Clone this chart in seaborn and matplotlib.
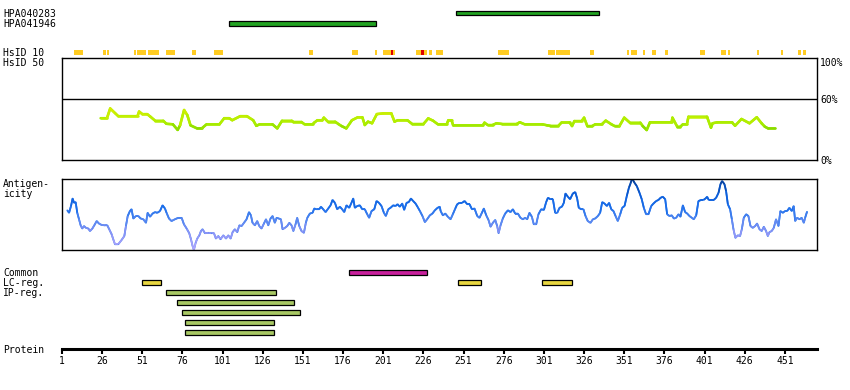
import numpy as np
import matplotlib
matplotlib.use("Agg")
import matplotlib.pyplot as plt
import seaborn as sns
from matplotlib.collections import LineCollection
from matplotlib.colors import LinearSegmentedColormap, Normalize

# ---------------- data ----------------
protein_length = 471
tick_positions = [1, 26, 51, 76, 101, 126, 151, 176, 201, 226, 251, 276, 301,
                  326, 351, 376, 401, 426, 451]
tick_labels = [str(t) for t in tick_positions]

antibody_names = ["HPA040283", "HPA041946"]
antibody_starts = [246, 105]
antibody_ends = [335.5, 196.3]

hsid10_starts = [8.5, 26.6, 29.0, 45.6, 47.7, 54.6, 65.8, 81.8, 95.6, 154.8,
                 181.3, 195.8, 200.6, 221.2, 229.4, 233.9, 272.4, 303.4, 308.3,
                 329.4, 352.6, 355.1, 362.5, 368.0, 376.2, 397.9, 411.2, 415.4,
                 433.5, 448.6, 459.2, 462.1]
hsid10_ends = [13.9, 28.4, 30.2, 47.1, 53.1, 61.3, 71.3, 84.5, 101.1, 157.2,
               185.3, 197.0, 208.2, 228.1, 231.1, 238.1, 279.1, 307.8, 317.1,
               332.2, 353.8, 358.7, 363.8, 370.8, 378.1, 401.2, 414.2, 416.7,
               434.7, 449.8, 461.0, 464.0]
hsid10_red_starts = [206.1, 224.5]
hsid10_red_ends = [207.3, 226.3]

hsid50_pos = [25, 29, 31, 34, 36, 48, 49, 51, 54, 56,
              59, 64, 66, 70, 73, 74.5, 77, 79, 81, 85,
              88, 91, 99, 102, 105, 107, 112, 116, 120, 122,
              124, 132, 135, 138, 144, 145, 150, 152, 157, 158,
              160, 163, 164, 166.5, 171, 173, 175, 178, 181.5, 185,
              188, 189.5, 191.5, 194, 197, 201, 206, 208, 210, 216,
              219, 226, 229, 232, 235, 240.5, 241.5, 243.5, 244.5, 263,
              264, 266, 269, 271.5, 275, 284, 286, 289, 300, 303,
              305, 310, 312, 317, 318.5, 320, 324.5, 326, 328, 331,
              333, 337, 339.5, 343, 345, 348, 351, 354.5, 361, 362.5,
              365, 367, 380.5, 381, 384, 386, 387.5, 390, 391, 402.5,
              405, 406, 409, 418, 420, 424, 429, 433.5, 436.5, 438.5,
              440.5, 445]
hsid50_pct = [41, 41, 50.5, 46, 43, 43, 47.5, 45, 45, 42.5,
              38.5, 38.5, 35.5, 35, 29.5, 34, 49, 44, 34, 31,
              31, 35, 35, 41, 41, 39, 43, 43, 39, 33.5,
              35, 35, 31, 38.5, 38.5, 37.3, 37.3, 35, 35, 36.6,
              39, 39, 41.5, 37.6, 37.6, 35.3, 33.3, 31, 39, 41.8,
              41.8, 34.3, 37.6, 36, 45, 45.7, 45.7, 37.6, 39, 39,
              35.3, 35.3, 40.8, 38.5, 35, 35, 39, 39, 34, 34,
              36.6, 34.3, 34.3, 36, 35.3, 35.3, 37, 35, 35, 34,
              33.5, 33.5, 36.8, 36.8, 33.3, 38.2, 38.2, 41.5, 33.3, 33.3,
              35, 35, 38.6, 35, 33.3, 33.3, 41.5, 36.6, 36.6, 33.3,
              29.4, 37, 37, 41.5, 32.7, 32.7, 35, 35, 42.5, 42.5,
              31.7, 36, 37, 37, 33.6, 40.2, 36, 41.9, 36, 32.7,
              31, 31]
hsid_ref_level = 60
hsid_axis_labels = ["100%", "60%", "0%"]

antigen_pos = [
    4.3, 5.4, 6.6, 7.6, 8.5, 9.5, 10.5, 11.6, 12.6, 13.6,
    14.7, 15.9, 17.4, 18.4, 19.9, 21.1, 22.6, 24, 25.7, 27.8,
    29.2, 30.4, 31.9, 32.9, 34, 36, 38.1, 39.8, 40.8, 41.9,
    43.3, 44.3, 45.4, 47, 48.5, 50, 51.6, 53.3, 54.3, 55.8,
    57.4, 58.9, 60.3, 62, 63.6, 65.1, 66.1, 67.6, 69.2, 71.3,
    73.4, 75.5, 76.9, 78.6, 80.2, 81.3, 82.3, 83.1, 84.2, 85.2,
    86.5, 87.5, 88.5, 90, 92.1, 94.1, 95.6, 96.8, 98.3, 99.7,
    101.4, 103.1, 104.5, 106, 107.2, 108.6, 110.1, 111.4, 112.8, 114.3,
    115.9, 117.4, 118.6, 119.6, 121.1, 122.5, 123.8, 125.2, 126.7, 128,
    129.4, 130.8, 132.1, 133.5, 134.6, 136, 137.3, 138.3, 139.8, 141.2,
    142.5, 143.9, 145, 146.4, 147.4, 148.7, 150.1, 151.6, 152.8, 153.7,
    155.3, 157, 158, 159.5, 161.1, 162.2, 163.6, 165.1, 166.7, 168.2,
    169.4, 170.9, 172.3, 174, 175.4, 176.7, 178.1, 179.8, 181.2, 182.3,
    183.3, 184.8, 186.4, 187.9, 189.5, 191, 192.2, 193.7, 195.4, 196.8,
    198.3, 199.9, 201.4, 202.6, 204.1, 205.5, 207.2, 208.6, 209.9, 211.3,
    212.8, 214, 215.5, 216.9, 218.2, 219.6, 221.1, 222.3, 223.8, 225.4,
    226.9, 228.3, 230, 231.6, 233.1, 234.8, 236.2,
    236.7, 238.1, 239.6, 241.2, 242.9, 244.3, 245.8, 247, 248.5, 250.1,
    251.6, 253.3, 254.7, 256.2, 257.8, 259.5, 260.9, 262.4, 263.6, 265.1,
    266.5, 267.8, 269.2, 270.7, 271.9, 272.8, 274, 275.4, 276.9, 278.6,
    280.2, 281.7, 283.1, 284.8, 286.4, 287.9, 289.3, 290.6, 292, 293.5,
    294.7, 296.2, 297.6, 299.3, 301, 302.4, 303.5, 305.1, 306.6, 308,
    309.3, 310.7, 312.2, 313.4, 314.4, 315.9, 317.3, 319, 320.5, 321.7,
    322.7, 324.2, 325.6, 326.9, 328.3, 330, 331.5, 332.9, 334.6, 336,
    337.3, 338.7, 340.2, 341.6, 342.9, 344.3, 345.6, 347, 348.5, 349.7,
    351.2, 352.6, 353.9, 354.9, 355.9, 357.4, 358.8, 360.5, 361.9, 363.2,
    364.6, 366.1, 367.8, 369.2, 370.9, 372.3, 373.6, 375, 376.5, 377.7,
    379.2, 380.6, 381.9, 383.3, 384.8, 386, 387.5, 388.9, 390.2, 391.6,
    393.1, 394.3, 395.8, 397.2, 398.9, 400.3, 401.6, 402.6, 403.6, 405.1,
    406.7, 408.2, 409.7, 410.9, 411.9, 413.4, 414.4, 415.5, 416.9, 418,
    419, 420.2, 421.7, 423.1, 424.2, 425.4, 426.9, 428.3, 429.6, 431,
    432.5, 433.7, 435.2, 436.6, 437.9, 439.3, 440.4, 441.4, 442.8, 444.1,
    445.5, 447, 448.2, 449.7, 451.1, 452.4, 453.8, 455.3, 456.5, 457.4,
    458.6, 460.1, 461.5, 462.8, 463.6, 464.8]
antigen_score = [
    .555, .52, .615, .72, .66, .67, .52, .43, .345, .30,
    .335, .31, .30, .265, .30, .345, .405, .37, .35, .345,
    .345, .29, .22, .15, .08, .08, .14, .195, .335, .475,
    .545, .57, .44, .475, .475, .44, .43, .38, .52, .465,
    .51, .53, .52, .545, .625, .58, .52, .44, .405, .43,
    .45, .45, .36, .30, .235, .15, .055, 0.0, .10, .16,
    .205, .265, .29, .235, .24, .235, .235, .16, .195, .15,
    .205, .16, .205, .16, .25, .29, .25, .345, .335, .38,
    .43, .53, .485, .38, .345, .405, .335, .30, .37, .43,
    .345, .44, .475, .38, .45, .44, .43, .29, .31, .335,
    .38, .345, .265, .36, .45, .335, .265, .24, .38, .45,
    .51, .52, .58, .57, .57, .605, .57, .53, .58, .625,
    .70, .66, .57, .605, .57, .53, .625, .59, .66, .72,
    .59, .615, .625, .57, .57, .50, .45, .545, .57, .685,
    .66, .615, .52, .475, .57, .59, .625, .615, .64, .605,
    .65, .56, .66, .67, .72, .685, .65, .605, .545, .475,
    .39, .43, .485, .51, .555, .59, .605,
    .545, .485, .51, .465, .43, .50, .58, .64, .66, .66,
    .685, .64, .64, .57, .58, .475, .45, .52, .58, .485,
    .42, .325, .38, .42, .335, .235, .345, .44, .51, .555,
    .53, .57, .51, .51, .45, .43, .45, .43, .52, .465,
    .36, .36, .50, .57, .56, .67, .73, .71, .71, .52,
    .52, .59, .605, .66, .79, .745, .71, .79, .81, .72,
    .59, .57, .57, .475, .405, .38, .43, .44, .475, .52,
    .67, .65, .615, .66, .57, .545, .475, .405, .50, .59,
    .615, .755, .87, .93, 1.0, .94, .895, .80, .71, .59,
    .50, .50, .615, .65, .685, .70, .73, .745, .71, .50,
    .475, .485, .44, .45, .50, .465, .625, .53, .51, .475,
    .45, .43, .485, .685, .70, .70, .72, .745, .70, .70,
    .70, .73, .80, .92, .965, .92, .825, .64, .57, .43,
    .29, .17, .205, .195, .29, .45, .50, .475, .335, .31,
    .335, .37, .29, .265, .325, .265, .195, .25, .265, .31,
    .43, .335, .545, .52, .545, .545, .59, .545, .615, .405,
    .45, .43, .45, .38, .45, .535]

track_names = ["Common", "LC-reg.", "IP-reg."]
common_starts = [179.8]
common_ends = [228.0]
lc_starts = [50.9, 247.6, 300.0]
lc_ends = [62.4, 262.1, 318.7]
ip_starts = [65.9, 72.7, 75.9, 77.7, 77.7]
ip_ends = [134.0, 145.2, 148.9, 132.7, 132.7]

# ---------------- style ----------------
sns.set_style("white")
plt.rcParams["font.family"] = ["DejaVu Sans Mono", "DejaVu Sans"]
FS = 7.0

W, H = 850, 390
fig = plt.figure(figsize=(W / 100, H / 100), dpi=100)


def px_axes(x0, y0, x1, y1):
    return fig.add_axes([x0 / W, 1 - y1 / H, (x1 - x0) / W, (y1 - y0) / H])


X0, X1 = 62, 817
xlim = (1, protein_length)

# antibody tracks
ax_ab = px_axes(X0, 7.75, X1, 28.75)
ax_ab.set_xlim(*xlim)
ax_ab.set_ylim(1.5, -0.5)
ax_ab.barh(range(len(antibody_names)),
           np.array(antibody_ends) - np.array(antibody_starts),
           left=antibody_starts, height=0.40, color="#22a322",
           edgecolor="black", linewidth=0.9)
ax_ab.axis("off")

# HsID 10 blocks
ax_h10 = px_axes(X0, 50, X1, 54.5)
ax_h10.set_xlim(*xlim)
ax_h10.set_ylim(0, 1)
ax_h10.barh(0.5, np.array(hsid10_ends) - np.array(hsid10_starts),
            left=hsid10_starts, height=1, color="#ffcc22", linewidth=0)
ax_h10.barh(0.5, np.array(hsid10_red_ends) - np.array(hsid10_red_starts),
            left=hsid10_red_starts, height=1, color="#dd0000", linewidth=0)
ax_h10.axis("off")

# HsID 50 panel
ax_h50 = px_axes(X0, 58, X1, 160)
ax_h50.set_xlim(*xlim)
ax_h50.set_ylim(0, 100)
ax_h50.axhline(hsid_ref_level, color="black", lw=1.0)
sns.lineplot(x=hsid50_pos, y=hsid50_pct, ax=ax_h50, color="#a8ec00", lw=1.8)
pts = np.column_stack([hsid50_pos, hsid50_pct])
segs = np.stack([pts[:-1], pts[1:]], axis=1)
cmap_h = LinearSegmentedColormap.from_list(
    "hs", [(0, "#6cc800"), (0.3, "#a4ec00"), (0.6, "#c0f000"), (1, "#dcee00")])
lc = LineCollection(segs, cmap=cmap_h, norm=Normalize(27, 52), lw=1.8,
                    capstyle="round")
lc.set_array((pts[:-1, 1] + pts[1:, 1]) / 2)
ax_h50.add_collection(lc)
ax_h50.set_xticks([])
ax_h50.set_yticks([])
for s in ax_h50.spines.values():
    s.set_color("black")
    s.set_linewidth(1.0)
    s.set_visible(True)

# Antigenicity panel
ax_ag = px_axes(X0, 178.5, X1, 250)
ax_ag.set_xlim(*xlim)
ax_ag.set_ylim(0, 1)
sns.lineplot(x=antigen_pos, y=antigen_score, ax=ax_ag, color="#2a78ee", lw=1.2)
pts = np.column_stack([antigen_pos, antigen_score])
segs = np.stack([pts[:-1], pts[1:]], axis=1)
cmap_a = LinearSegmentedColormap.from_list(
    "ag", [(0, "#b4a8ff"), (0.25, "#8c94f6"), (0.45, "#4d84f0"),
           (0.6, "#1a6eea"), (0.8, "#0a5ad4"), (1, "#083c8c")])
lc2 = LineCollection(segs, cmap=cmap_a, norm=Normalize(0, 1), lw=1.3)
lc2.set_array((pts[:-1, 1] + pts[1:, 1]) / 2)
ax_ag.add_collection(lc2)
ax_ag.set_xticks([])
ax_ag.set_yticks([])
for s in ax_ag.spines.values():
    s.set_color("black")
    s.set_linewidth(1.0)
    s.set_visible(True)

# region tracks
ax_tr = px_axes(X0, 267.5, X1, 337.5)
ax_tr.set_xlim(*xlim)
ax_tr.set_ylim(6.5, -0.5)
bh = 0.42
ax_tr.barh([0] * len(common_starts),
           np.array(common_ends) - np.array(common_starts),
           left=common_starts, height=bh, color="#c8209c",
           edgecolor="black", linewidth=0.9)
ax_tr.barh([1] * len(lc_starts), np.array(lc_ends) - np.array(lc_starts),
           left=lc_starts, height=bh, color="#e8d640",
           edgecolor="black", linewidth=0.9)
ax_tr.barh(np.arange(2, 2 + len(ip_starts)),
           np.array(ip_ends) - np.array(ip_starts),
           left=ip_starts, height=bh, color="#a8c864",
           edgecolor="black", linewidth=0.9)
ax_tr.axis("off")

# protein axis
ax_p = px_axes(X0, 330, X1, 349)
ax_p.set_xlim(*xlim)
ax_p.set_yticks([])
for side in ["left", "right", "top"]:
    ax_p.spines[side].set_visible(False)
ax_p.spines["bottom"].set_visible(True)
ax_p.spines["bottom"].set_linewidth(2.2)
ax_p.spines["bottom"].set_color("black")
ax_p.set_xticks(tick_positions)
ax_p.set_xticklabels(tick_labels)
ax_p.tick_params(axis="x", direction="out", length=3.5, width=1.5,
                 pad=1.5, labelsize=FS, colors="black", bottom=True)
ax_p.patch.set_alpha(0)

# text overlay
ax_t = fig.add_axes([0, 0, 1, 1])
ax_t.set_xlim(0, W)
ax_t.set_ylim(H, 0)
ax_t.axis("off")
ax_t.patch.set_alpha(0)
left_labels = [(antibody_names[0], 16.7), (antibody_names[1], 26.7),
               ("HsID 10", 56.0), ("HsID 50", 66.0),
               ("Antigen-", 186.7), ("icity", 196.7),
               (track_names[0], 276.5), (track_names[1], 286.3),
               (track_names[2], 296.3), ("Protein", 353.0)]
for txt, yb in left_labels:
    ax_t.text(3, yb, txt, fontsize=FS, va="baseline", ha="left", color="black")
right_baselines = [65.7, 103.3, 163.7]
for txt, yb in zip(hsid_axis_labels, right_baselines):
    ax_t.text(820, yb, txt, fontsize=FS, va="baseline", ha="left", color="black")

fig.savefig("out.png", dpi=100)
